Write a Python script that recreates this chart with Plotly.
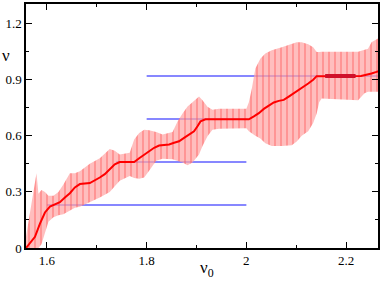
import plotly.graph_objects as go

# mean curve
mean_x = [1.558, 1.576, 1.586, 1.596, 1.606, 1.616, 1.626, 1.636, 1.646, 1.656, 1.666, 1.686,
          1.696, 1.706, 1.716, 1.726, 1.736, 1.746, 1.775, 1.785, 1.795, 1.805, 1.815, 1.825,
          1.845, 1.855, 1.865, 1.875, 1.885, 1.895, 1.902, 1.908, 1.918, 2.005, 2.015, 2.025,
          2.035, 2.045, 2.055, 2.065, 2.075, 2.085, 2.095, 2.105, 2.114, 2.124, 2.134, 2.141,
          2.23, 2.237, 2.251, 2.261, 2.264]
mean_y = [0.0, 0.06, 0.13, 0.19, 0.222, 0.233, 0.245, 0.27, 0.293, 0.324, 0.342, 0.347,
          0.36, 0.377, 0.395, 0.42, 0.448, 0.46, 0.46, 0.48, 0.50, 0.518, 0.536, 0.548,
          0.554, 0.563, 0.571, 0.589, 0.607, 0.624, 0.651, 0.677, 0.688, 0.688, 0.704, 0.721,
          0.744, 0.762, 0.778, 0.787, 0.792, 0.81, 0.827, 0.845, 0.862, 0.88, 0.90, 0.919,
          0.92, 0.924, 0.933, 0.942, 0.945]

# uncertainty band
band_x = [1.558, 1.563, 1.569, 1.576, 1.579, 1.583, 1.589, 1.596, 1.603, 1.613, 1.623, 1.633,
          1.646, 1.656, 1.666, 1.686, 1.706, 1.726, 1.736, 1.746, 1.766, 1.775, 1.785, 1.795,
          1.805, 1.819, 1.832, 1.852, 1.862, 1.872, 1.882, 1.892, 1.905, 1.912, 1.922, 1.932,
          1.945, 1.97, 2.0, 2.005, 2.011, 2.018, 2.028, 2.038, 2.051, 2.071, 2.091, 2.101,
          2.111, 2.124, 2.134, 2.141, 2.146, 2.151, 2.224, 2.237, 2.244, 2.251, 2.264]
band_lo = [0.0, 0.0, 0.0, 0.0, 0.0, 0.0, 0.02, 0.08, 0.14, 0.165, 0.175, 0.18,
           0.20, 0.215, 0.22, 0.245, 0.27, 0.30, 0.33, 0.36, 0.385, 0.375, 0.37, 0.377,
           0.413, 0.466, 0.478, 0.474, 0.465, 0.457, 0.443, 0.457, 0.50, 0.545, 0.598, 0.633,
           0.638, 0.64, 0.64, 0.624, 0.615, 0.60, 0.585, 0.56, 0.545, 0.545, 0.55, 0.57,
           0.60, 0.624, 0.668, 0.72, 0.78, 0.80, 0.79, 0.827, 0.836, 0.836, 0.836]
band_hi = [0.06, 0.14, 0.24, 0.34, 0.40, 0.29, 0.31, 0.30, 0.28, 0.28, 0.30, 0.34,
           0.40, 0.40, 0.41, 0.45, 0.48, 0.53, 0.52, 0.50, 0.51, 0.58, 0.615, 0.633,
           0.63, 0.62, 0.607, 0.62, 0.677, 0.72, 0.757, 0.78, 0.81, 0.79, 0.755, 0.74,
           0.745, 0.745, 0.745, 0.78, 0.853, 0.96, 1.012, 1.04, 1.057, 1.074, 1.092, 1.10,
           1.10, 1.09, 1.074, 1.048, 1.048, 1.05, 1.05, 1.06, 1.065, 1.10, 1.12]

# plateau reference lines
plateau_y = [0.23, 0.46, 0.69, 0.92]
plateau_x0 = [1.6, 1.739, 1.8, 1.8]
plateau_x1 = [2.0, 2.0, 2.0, 2.264]

# thick segment on top plateau
thick_x = [2.158, 2.219]
thick_y = [0.92, 0.92]

x_ticks = [1.6, 1.8, 2.0, 2.2]
x_ticklabels = ["1.6", "1.8", "2", "2.2"]
y_ticks = [0, 0.3, 0.6, 0.9, 1.2]
y_ticklabels = ["0", "0.3", "0.6", "0.9", "1.2"]

fig = go.Figure()

for y, a, b in zip(plateau_y, plateau_x0, plateau_x1):
    fig.add_trace(go.Scatter(x=[a, b], y=[y, y], mode="lines",
                             line=dict(color="#1010ff", width=1.1), showlegend=False,
                             hoverinfo="skip"))

poly_x = band_x + band_x[::-1]
poly_y = band_hi + band_lo[::-1]
fig.add_trace(go.Scatter(x=poly_x, y=poly_y, mode="lines", fill="toself",
                         line=dict(width=0, color="rgba(0,0,0,0)"),
                         fillcolor="rgba(255,150,150,0.7)",
                         fillpattern=dict(shape="|", fgcolor="rgba(255,80,80,0.7)",
                                          bgcolor="rgba(255,165,165,0.72)", size=6,
                                          solidity=0.18, fillmode="replace"),
                         showlegend=False, hoverinfo="skip"))

fig.add_trace(go.Scatter(x=mean_x, y=mean_y, mode="lines",
                         line=dict(color="#ff0000", width=2), showlegend=False))

fig.add_trace(go.Scatter(x=thick_x, y=thick_y, mode="lines",
                         line=dict(color="#d0102a", width=4), showlegend=False))

font = dict(family="Liberation Serif, Times New Roman, serif", size=13, color="black")

fig.update_layout(
    width=382, height=282,
    margin=dict(l=26, r=2, t=2, b=34),
    paper_bgcolor="white", plot_bgcolor="white",
    font=font,
    xaxis=dict(range=[1.558, 2.264], tickvals=x_ticks, ticktext=x_ticklabels,
               ticks="inside", ticklen=6, tickwidth=1, tickcolor="black",
               showline=True, linecolor="black", linewidth=1.5, mirror="ticks",
               showgrid=False, zeroline=False,
               minor=dict(dtick=0.1, tick0=1.6, ticks="inside", ticklen=3,
                          tickcolor="black", showgrid=False)),
    yaxis=dict(range=[0, 1.305], tickvals=y_ticks, ticktext=y_ticklabels,
               ticks="inside", ticklen=6, tickwidth=1, tickcolor="black",
               showline=True, linecolor="black", linewidth=1.5, mirror="ticks",
               showgrid=False, zeroline=False,
               minor=dict(dtick=0.15, tick0=0, ticks="inside", ticklen=3,
                          tickcolor="black", showgrid=False)),
    annotations=[
        dict(text="ν", xref="paper", yref="paper", x=-0.058, y=0.79,
             showarrow=False, font=dict(family=font["family"], size=17),
             xanchor="center", yanchor="middle"),
        dict(text="ν<sub>0</sub>", xref="paper", yref="paper", x=0.514, y=-0.085,
             showarrow=False, font=dict(family=font["family"], size=17),
             xanchor="center", yanchor="middle"),
    ],
)

fig.write_html("out.html", config={"displayModeBar": False})

# remove default page margin so the figure sits at the window's top-left corner
with open("out.html", "r", encoding="utf-8") as f:
    html = f.read()
html = html.replace("<head>", "<head><style>html,body{margin:0;padding:0;overflow:hidden}</style>", 1)
with open("out.html", "w", encoding="utf-8") as f:
    f.write(html)
